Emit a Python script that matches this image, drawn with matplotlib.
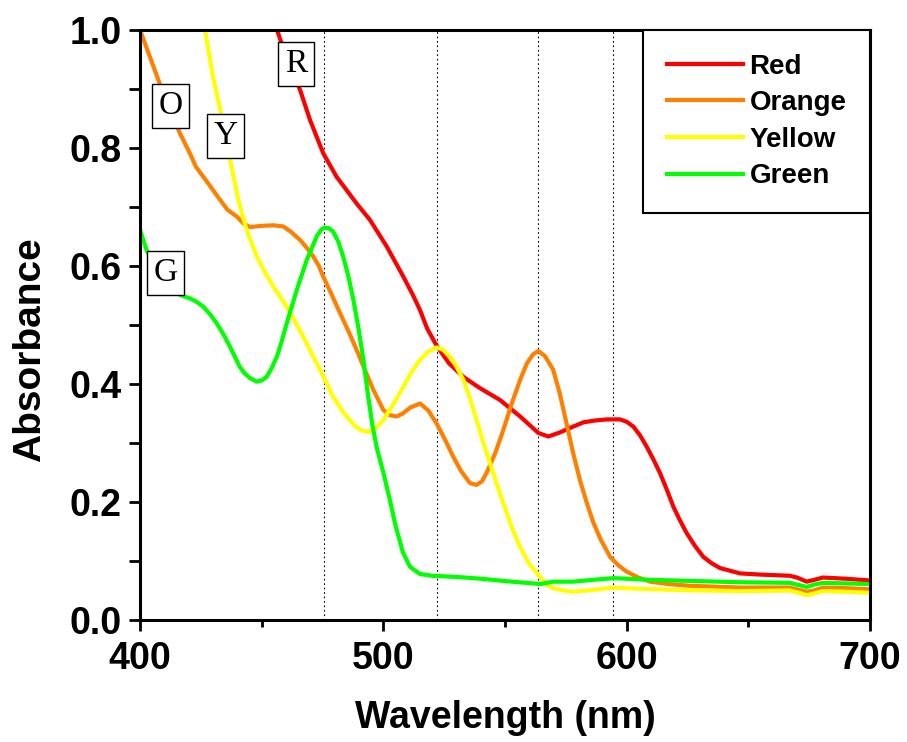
import matplotlib.pyplot as plt
from matplotlib.ticker import MultipleLocator, FormatStrFormatter

# absorbance spectra
red_x = [456.3, 460, 465.8, 469.9, 475.3, 480.8, 485, 489, 494.5, 501.4, 508.2, 512, 515.1, 518, 521.9, 527,
         532.9, 539.7, 547.9, 556.2, 563.7, 567.8, 572.6, 577, 582.2, 586.7, 591.8, 597.3, 600, 602.7, 605.5,
         608.2, 611, 613.7, 616.5, 619.2, 622, 624.7, 628, 631.5, 635, 638.4, 646.6, 655, 667, 670, 674,
         677, 680.7, 690, 700]
red_y = [1.0, 0.955, 0.898, 0.847, 0.791, 0.751, 0.728, 0.706, 0.678, 0.633, 0.582, 0.552, 0.525, 0.494,
         0.465, 0.435, 0.412, 0.393, 0.373, 0.345, 0.317, 0.311, 0.318, 0.326, 0.335, 0.338, 0.34, 0.34,
         0.336, 0.328, 0.313, 0.294, 0.272, 0.249, 0.221, 0.192, 0.168, 0.147, 0.126, 0.107, 0.096, 0.088,
         0.079, 0.077, 0.075, 0.072, 0.065, 0.068, 0.072, 0.07, 0.067]

orange_x = [400, 404, 408, 412, 416.4, 420, 423, 428, 432.9, 436, 439.7, 442.5, 445.2, 450, 454.8, 458.9,
            462, 465.8, 468.5, 471.2, 473.5, 475.3, 478.7, 482.2, 485.6, 489, 492.5, 495.9, 500, 502.7,
            505.5, 508, 511, 515.1, 518.5, 521.9, 525.3, 528.7, 532, 535.6, 538.3, 540.5, 542.4, 546, 549.3,
            552.7, 556.2, 559, 561.5, 563.7, 566.5, 569.8, 572.5, 575.3, 578, 580.8, 583.5, 586.3, 589.5,
            593.2, 596.5, 600, 604.8, 609.6, 617, 626, 646.6, 667, 670, 674, 677, 680.7, 690, 700]
orange_y = [1.0, 0.955, 0.91, 0.865, 0.825, 0.795, 0.768, 0.74, 0.712, 0.695, 0.684, 0.672, 0.666, 0.668,
            0.669, 0.667, 0.658, 0.644, 0.631, 0.616, 0.6, 0.582, 0.552, 0.52, 0.49, 0.458, 0.423, 0.39,
            0.356, 0.347, 0.345, 0.35, 0.36, 0.367, 0.355, 0.333, 0.306, 0.277, 0.252, 0.232, 0.229, 0.235,
            0.249, 0.283, 0.322, 0.366, 0.407, 0.435, 0.45, 0.456, 0.447, 0.424, 0.384, 0.333, 0.283, 0.237,
            0.2, 0.165, 0.135, 0.107, 0.093, 0.082, 0.072, 0.065, 0.061, 0.058, 0.055, 0.055, 0.052, 0.048,
            0.05, 0.055, 0.054, 0.052]

yellow_x = [426.7, 430, 433, 437, 440.4, 443.8, 448, 451.5, 454.8, 460.3, 463.7, 467.1, 470.5, 474, 479.4,
            483.6, 488, 491, 494.5, 497, 500, 504, 508.2, 511.5, 515.1, 518.5, 521.9, 524.5, 527.4, 530,
            532.9, 535.5, 538.3, 541, 543.8, 546.5, 549.3, 552.7, 556, 560, 564.4, 567, 569.9, 574, 578, 586,
            594.5, 605, 619, 646.6, 667, 670, 674, 677, 680.7, 690, 700]
yellow_y = [1.0, 0.92, 0.864, 0.78, 0.712, 0.661, 0.616, 0.588, 0.565, 0.531, 0.506, 0.48, 0.452, 0.424,
            0.378, 0.352, 0.33, 0.321, 0.319, 0.326, 0.339, 0.365, 0.395, 0.42, 0.441, 0.455, 0.462, 0.458,
            0.446, 0.43, 0.407, 0.377, 0.339, 0.302, 0.266, 0.232, 0.198, 0.158, 0.125, 0.095, 0.073, 0.06,
            0.054, 0.05, 0.048, 0.051, 0.055, 0.053, 0.051, 0.049, 0.05, 0.047, 0.042, 0.045, 0.049, 0.048,
            0.046]

green_x = [400, 402.7, 406, 410, 413, 416.4, 420.5, 423, 426, 428.8, 431.5, 434.3, 437, 441, 443, 445.2,
           448, 450, 452, 454, 456.2, 458.2, 460.3, 464.4, 468.5, 472.6, 474.5, 476, 477.7, 479.4, 481.5,
           483.5, 485.6, 487.7, 489.8, 491.8, 493.8, 495.5, 497.4, 500, 502.7, 505, 508, 511, 515, 520, 530,
           540, 550, 564.4, 569.9, 578, 586, 594.5, 600, 609.6, 620, 646.6, 667, 670, 674, 677, 680.7, 690,
           700]
green_y = [0.661, 0.627, 0.6, 0.58, 0.565, 0.551, 0.545, 0.54, 0.531, 0.518, 0.503, 0.484, 0.463, 0.429,
           0.418, 0.41, 0.404, 0.406, 0.412, 0.426, 0.446, 0.472, 0.503, 0.559, 0.61, 0.65, 0.662, 0.665,
           0.664, 0.658, 0.641, 0.616, 0.583, 0.542, 0.494, 0.441, 0.378, 0.33, 0.29, 0.25, 0.203, 0.16,
           0.115, 0.09, 0.078, 0.075, 0.073, 0.07, 0.066, 0.061, 0.065, 0.065, 0.068, 0.071, 0.07, 0.068,
           0.067, 0.064, 0.063, 0.06, 0.056, 0.06, 0.063, 0.062, 0.061]

series = [("Red", "#ff0000", red_x, red_y),
          ("Orange", "#ff8000", orange_x, orange_y),
          ("Yellow", "#ffff00", yellow_x, yellow_y),
          ("Green", "#00ff00", green_x, green_y)]

peak_lines = [475.5, 522, 563.6, 594.4]

tags = ["R", "O", "Y", "G"]
tag_x = [464.1, 412.5, 435.1, 410.5]
tag_y = [0.942, 0.871, 0.821, 0.588]

sans = ["Liberation Sans", "DejaVu Sans"]

fig = plt.figure(figsize=(9.07, 7.42), dpi=100)
ax = fig.add_axes([0.1544, 0.1644, 0.8048, 0.7952])

for xv in peak_lines:
    ax.axvline(xv, color="black", lw=0.8, ls=(0, (1.5, 2.5)), zorder=1)

for name, col, xs, ys in series:
    ax.plot(xs, ys, color=col, lw=3, label=name, zorder=2, solid_joinstyle="round")

for t, xv, yv in zip(tags, tag_x, tag_y):
    ax.text(xv, yv, t, ha="center", va="center", fontsize=24, family="Liberation Serif",
            bbox=dict(boxstyle="square,pad=0.2", fc="white", ec="black", lw=1), zorder=3)

ax.set_xlim(400, 700)
ax.set_ylim(0, 1.0)
ax.xaxis.set_major_locator(MultipleLocator(100))
ax.xaxis.set_minor_locator(MultipleLocator(50))
ax.yaxis.set_major_locator(MultipleLocator(0.2))
ax.yaxis.set_minor_locator(MultipleLocator(0.1))
ax.yaxis.set_major_formatter(FormatStrFormatter("%.1f"))

for s in ax.spines.values():
    s.set_linewidth(2.2)
ax.tick_params(which="major", direction="out", length=8, width=2)
ax.tick_params(axis="x", which="major", pad=7)
ax.tick_params(axis="y", which="major", pad=5)
ax.tick_params(axis="x", which="minor", direction="out", length=5, width=2)
ax.tick_params(axis="y", which="minor", direction="out", length=8, width=2)

for lab in ax.get_xticklabels() + ax.get_yticklabels():
    lab.set_family(sans)
    lab.set_fontweight("bold")
    lab.set_fontsize(27)

ax.set_xlabel("Wavelength (nm)", family=sans, fontweight="bold", fontsize=27, labelpad=17)
ax.set_ylabel("Absorbance", family=sans, fontweight="bold", fontsize=28, va="center")
ax.yaxis.set_label_coords(-0.151, 0.458)

leg = ax.legend(loc="upper right", bbox_to_anchor=(1.0, 1.0), borderaxespad=0, fancybox=False,
                edgecolor="black", framealpha=1, prop={"family": sans, "weight": "bold", "size": 20},
                handlelength=2.75, labelspacing=0.38, borderpad=0.85, handletextpad=0.22)
leg.get_frame().set_linewidth(1.5)
for ln in leg.get_lines():
    ln.set_linewidth(3)

fig.savefig("out.png", dpi=100)
